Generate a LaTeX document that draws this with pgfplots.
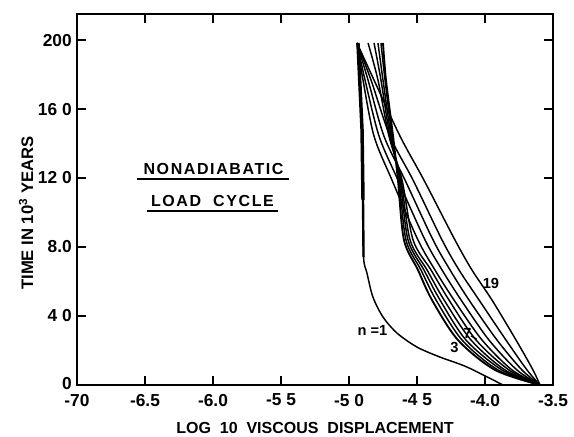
\documentclass[border=0pt]{standalone}
\usepackage{fontspec}
\setmainfont{Liberation Sans}
\newfontfamily\spaced[LetterSpace=10]{Liberation Sans}
\usepackage{pgfplots}
\pgfplotsset{compat=1.18}

\begin{document}
\begin{tikzpicture}
\begin{axis}[
    at={(0,0)}, anchor=south west,
    scale only axis,
    width=357pt, height=278.25pt,
    xmin=-7, xmax=-3.5,
    ymin=0, ymax=21.51,
    xtick={-7,-6.5,-6,-5.5,-5,-4.5,-4,-3.5},
    xticklabels={-70,-6.5,-6.0,-5 5,-5 0,-4 5,-4.0,-3.5},
    ytick={0,4,8,12,16,20},
    yticklabels={\raisebox{2pt}{0},4 0,8.0,12 0,16 0,200},
    tick align=inside,
    major tick length=6.5pt,
    tick style={line width=1.2pt, black},
    axis line style={line width=1.4pt},
    ticklabel style={font=\fontsize{13}{15}\selectfont\bfseries, inner sep=0pt},
    xticklabel style={yshift=-6.5pt},
    yticklabel style={xshift=-3.75pt},
    xlabel={LOG\ \ 10\ \ VISCOUS\ \ DISPLACEMENT},
    xlabel style={at={(axis description cs:0.5,-0.0997)}, anchor=north, inner sep=0pt,
        font=\fontsize{12}{14}\selectfont\bfseries},
    ylabel={TIME IN 10\textsuperscript{3} YEARS},
    ylabel style={at={(axis description cs:-0.0924,0.4636)}, anchor=base, inner sep=0pt,
        font=\fontsize{12.5}{14}\selectfont\bfseries},
    clip=false,
]
% n = 1
\addplot[black, line width=1.1pt, smooth, tension=0.5] coordinates {
    (-4.934,19.83) (-4.904,14.78) (-4.897,10.72) (-4.893,7.42) (-4.868,6.49)
    (-4.824,5.10) (-4.750,3.94) (-4.647,3.01) (-4.500,2.20) (-4.331,1.62)
    (-4.132,1.04) (-3.868,0)
};
\addplot[black, line width=2.6pt] coordinates {
    (-4.934,19.83) (-4.904,14.78) (-4.897,10.72)
};
\addplot[black, line width=1.8pt] coordinates {
    (-4.897,10.72) (-4.893,7.42)
};
% inner cycles: steep start, through the dense band
\addplot[black, line width=1.4pt, smooth, tension=0.5] coordinates {
    (-4.750,19.83) (-4.728,17.68) (-4.676,14.43) (-4.640,11.88) (-4.596,8.41)
    (-4.493,6.67) (-4.390,4.93) (-4.199,2.61) (-3.926,0.87) (-3.596,0)
};
\addplot[black, line width=1.1pt, smooth, tension=0.5] coordinates {
    (-4.765,19.83) (-4.735,17.68) (-4.684,14.43) (-4.632,11.88) (-4.581,8.41)
    (-4.471,6.67) (-4.360,4.93) (-4.169,2.61) (-3.904,0.87) (-3.596,0)
};
\addplot[black, line width=1.1pt, smooth, tension=0.5] coordinates {
    (-4.787,19.83) (-4.750,17.68) (-4.691,14.43) (-4.625,11.88) (-4.566,8.41)
    (-4.449,6.67) (-4.331,4.93) (-4.140,2.61) (-3.875,0.87) (-3.596,0)
};
\addplot[black, line width=1.1pt, smooth, tension=0.5] coordinates {
    (-4.816,19.83) (-4.765,17.68) (-4.699,14.43) (-4.618,11.88) (-4.551,8.41)
    (-4.426,6.67) (-4.301,4.93) (-4.103,2.61) (-3.853,0.87) (-3.596,0)
};
\addplot[black, line width=1.1pt, smooth, tension=0.5] coordinates {
    (-4.860,19.83) (-4.787,17.68) (-4.706,14.43) (-4.610,11.88) (-4.529,8.41)
    (-4.397,6.67) (-4.265,4.93) (-4.066,2.61) (-3.824,0.87) (-3.596,0)
};
% outer cycles: fanning from the common top point, up to n = 19
\addplot[black, line width=1.1pt, smooth, tension=0.5] coordinates {
    (-4.941,19.83) (-4.897,17.68) (-4.816,14.43) (-4.684,11.88) (-4.493,8.41)
    (-4.368,6.67) (-4.228,4.93) (-4.022,2.61) (-3.801,0.87) (-3.596,0)
};
\addplot[black, line width=1.1pt, smooth, tension=0.5] coordinates {
    (-4.941,19.83) (-4.882,17.68) (-4.779,14.43) (-4.640,11.88) (-4.441,8.41)
    (-4.316,6.67) (-4.176,4.93) (-3.971,2.61) (-3.765,0.87) (-3.596,0)
};
\addplot[black, line width=1.1pt, smooth, tension=0.5] coordinates {
    (-4.941,19.83) (-4.860,17.68) (-4.743,14.43) (-4.588,11.88) (-4.382,8.41)
    (-4.257,6.67) (-4.118,4.93) (-3.912,2.61) (-3.728,0.87) (-3.596,0)
};
\addplot[black, line width=1.1pt, smooth, tension=0.5] coordinates {
    (-4.941,19.83) (-4.838,17.68) (-4.699,14.43) (-4.529,11.88) (-4.316,8.41)
    (-4.191,6.67) (-4.044,4.93) (-3.846,2.61) (-3.691,0.87) (-3.596,0)
};
\addplot[black, line width=1.1pt, smooth, tension=0.5] coordinates {
    (-4.941,19.83) (-4.816,17.68) (-4.625,14.43) (-4.449,11.88) (-4.221,8.41)
    (-4.096,6.67) (-3.949,4.93) (-3.772,2.61) (-3.647,0.87) (-3.596,0)
};

% title block
\node[font=\fontsize{12}{14}\selectfont\spaced\bfseries, inner sep=0pt]
    at (axis cs:-5.996,12.52) {NONADIABATIC};
\draw[line width=1.5pt] (axis cs:-6.559,11.94) -- (axis cs:-5.441,11.94);
\node[font=\fontsize{12}{14}\selectfont\spaced\bfseries, inner sep=0pt]
    at (axis cs:-6.004,10.64) {LOAD\ \ CYCLE};
\draw[line width=1.5pt] (axis cs:-6.485,10.09) -- (axis cs:-5.522,10.09);

% curve labels
\node[font=\fontsize{11}{12}\selectfont\bfseries, inner sep=0pt]
    at (axis cs:-3.956,5.91) {19};
\node[font=\fontsize{11}{12}\selectfont\bfseries, inner sep=0pt]
    at (axis cs:-4.129,3.01) {7};
\draw[line width=0.9pt] (axis cs:-4.103,2.84) -- (axis cs:-4.060,2.66);
\node[font=\fontsize{11}{12}\selectfont\bfseries, inner sep=0pt]
    at (axis cs:-4.224,2.17) {3};
\node[font=\fontsize{11}{12}\selectfont\bfseries, inner sep=0pt]
    at (axis cs:-4.827,3.19) {n =1};
\end{axis}
\path (-57.75pt,-38.25pt) rectangle (372.75pt,288.75pt);
\end{tikzpicture}
\end{document}
